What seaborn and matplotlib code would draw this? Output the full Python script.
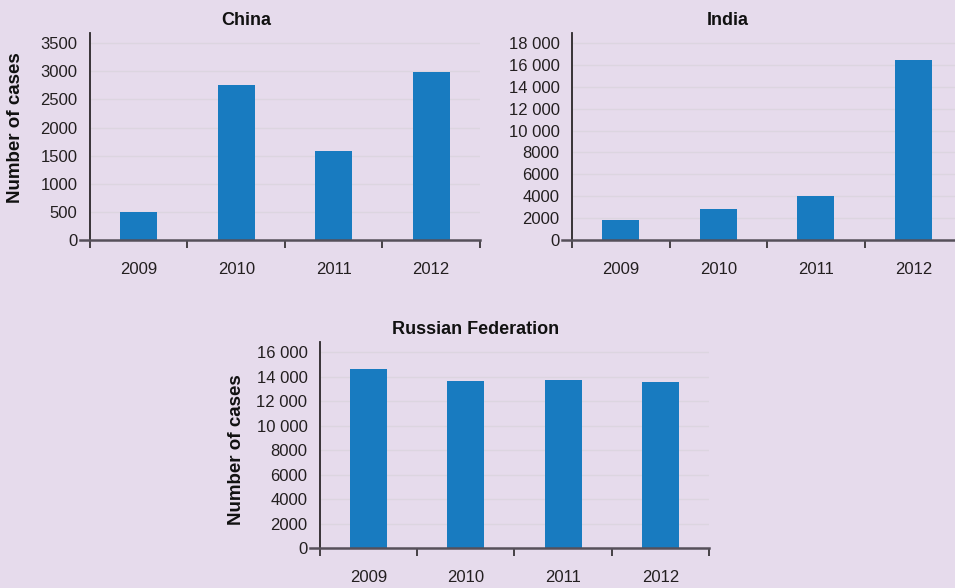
import numpy as np
import matplotlib
matplotlib.use("Agg")
import matplotlib.pyplot as plt
import pandas as pd
import seaborn as sns
from matplotlib.ticker import FixedLocator, FuncFormatter

sns.set_style("white")
plt.rcParams['font.family'] = ['Liberation Sans', 'DejaVu Sans']

years = ['2009', '2010', '2011', '2012']
china_cases = [500, 2760, 1585, 2990]
india_cases = [1830, 2830, 4010, 16420]
russia_cases = [14590, 13610, 13700, 13530]

china_ticks = [0, 500, 1000, 1500, 2000, 2500, 3000, 3500]
india_ticks = [0, 2000, 4000, 6000, 8000, 10000, 12000, 14000, 16000, 18000]
russia_ticks = [0, 2000, 4000, 6000, 8000, 10000, 12000, 14000, 16000]

bg = '#e6dbec'
bar_color = '#187bc0'
grid_color = '#dcd5e0'


def fmt(v, pos):
    v = int(round(v))
    if v >= 10000:
        return '{:,}'.format(v).replace(',', ' ')
    return str(v)


def draw_panel(ax, values, ticks, ytop, title, ylabel=None, label_x=-0.18, label_y=0.5):
    df = pd.DataFrame({'year': years, 'cases': values})
    sns.barplot(data=df, x='year', y='cases', color=bar_color, width=0.38,
                saturation=1, linewidth=0, ax=ax, zorder=3)
    ax.set_facecolor(bg)
    ax.set_xlim(-0.5, 3.5)
    ax.set_ylim(0, ytop)
    ax.yaxis.set_major_locator(FixedLocator(ticks))
    ax.yaxis.set_major_formatter(FuncFormatter(fmt))
    for t in ticks[1:]:
        ax.axhline(t, color=grid_color, lw=1, zorder=1)

    for s in ['top', 'right']:
        ax.spines[s].set_visible(False)
    ax.spines['left'].set_color('#2a2629')
    ax.spines['left'].set_linewidth(1.3)
    ax.spines['left'].set_zorder(5)
    ax.spines['bottom'].set_color('#56505a')
    ax.spines['bottom'].set_linewidth(1.8)
    ax.spines['bottom'].set_zorder(5)
    ax.spines['bottom'].set_bounds(-0.6, 3.5)

    ax.set_xticks(np.arange(-0.5, 4, 1.0), minor=True)
    ax.tick_params(axis='x', which='minor', length=6, width=1.2, color='#2a2629',
                   direction='out', bottom=True)
    ax.tick_params(axis='x', which='major', length=0, pad=15.5, labelsize=12,
                   labelcolor='#231f20')
    ax.tick_params(axis='y', which='major', length=0, pad=9, labelsize=12,
                   labelcolor='#231f20')

    ax.set_xlabel('')
    ax.set_title(title, x=0.4, y=1.039, pad=0, fontsize=13, fontweight='bold',
                 color='#111111')
    if ylabel:
        ax.set_ylabel(ylabel, fontsize=13.5, fontweight='bold', color='#111111')
        ax.yaxis.set_label_coords(label_x, label_y)
    else:
        ax.set_ylabel('')


fig = plt.figure(figsize=(9.55, 5.88), dpi=100, facecolor=bg)
ax1 = fig.add_axes([0.0942, 0.5918, 0.4084, 0.352])
ax2 = fig.add_axes([0.599, 0.5918, 0.4084, 0.352])
ax3 = fig.add_axes([0.335, 0.068, 0.4073, 0.350])

draw_panel(ax1, china_cases, china_ticks, 3680, 'China', 'Number of cases', -0.17, 0.543)
draw_panel(ax2, india_cases, india_ticks, 18900, 'India')
draw_panel(ax3, russia_cases, russia_ticks, 16800, 'Russian Federation', 'Number of cases', -0.193, 0.476)

fig.savefig('out.png', dpi=100, facecolor=bg)
